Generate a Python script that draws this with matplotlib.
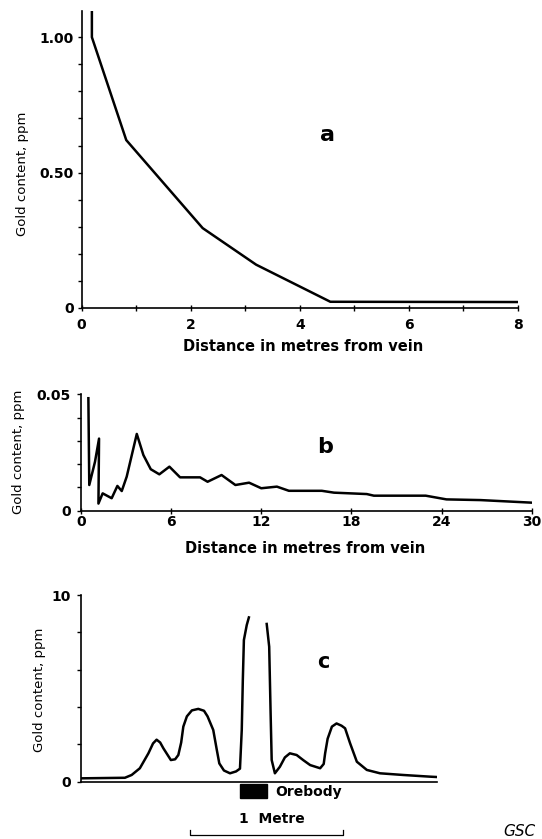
import numpy as np
import matplotlib
matplotlib.use('Agg')
import matplotlib.pyplot as plt
from matplotlib.patches import Rectangle
from matplotlib.ticker import MultipleLocator

# (a) gold content near the vein, 0-8 m
dist_a = [0.19, 0.19, 0.82, 2.22, 3.2, 4.56, 8.0]
gold_a = [1.10, 1.00, 0.62, 0.295, 0.16, 0.023, 0.022]

# (b) gold content away from the vein, 0-30 m
dist_b = [0.51, 0.57, 0.95, 1.22, 1.18, 1.46, 2.06, 2.44, 2.73, 3.06, 3.73,
          4.17, 4.66, 5.23, 5.9, 6.61, 7.94, 8.44, 9.37, 10.29, 11.2, 12.01,
          13.05, 13.85, 16.04, 16.85, 19.03, 19.5, 22.95, 24.33, 26.6, 29.97]
gold_b = [0.0484, 0.011, 0.021, 0.031, 0.003, 0.0074, 0.0053, 0.0106, 0.0084,
          0.0146, 0.033, 0.0239, 0.0178, 0.0156, 0.0189, 0.0143, 0.0143,
          0.0124, 0.0153, 0.011, 0.012, 0.0096, 0.0103, 0.0085, 0.0085,
          0.0077, 0.0071, 0.0064, 0.0064, 0.0048, 0.0045, 0.0034]

# (c) profile across the orebody (arbitrary horizontal units, 0-100)
pos_c = [0, 12.4, 14.3, 16.6, 19.0, 20.3, 21.3, 22.3, 23.2, 25.3, 26.5, 27.4,
         28.2, 28.8, 29.8, 31.2, 33.0, 34.6, 35.6, 37.2, 38.2, 38.9, 40.2,
         41.9, 43.6, 44.7, 45.2, 45.5, 45.8, 46.6, 47.2,
         np.nan,
         52.2, 52.9, 53.3, 53.6, 54.5, 55.9, 57.3, 58.7, 60.6, 62.5, 64.4,
         67.2, 68.2, 68.6, 69.3, 70.5, 71.8, 73.2, 74.2, 75.6, 77.5, 80.3,
         84.0, 90.5, 98.0, 100]
gold_c = [0.18, 0.21, 0.36, 0.72, 1.52, 2.05, 2.25, 2.1, 1.79, 1.16, 1.2, 1.43,
          2.1, 2.95, 3.5, 3.82, 3.9, 3.8, 3.5, 2.77, 1.7, 0.98, 0.6,
          0.45, 0.55, 0.7, 2.77, 5.45, 7.59, 8.39, 8.8,
          np.nan,
          8.45, 7.23, 3.66, 1.16, 0.45, 0.8, 1.3, 1.52, 1.43, 1.15, 0.89,
          0.72, 0.95, 1.52, 2.3, 2.95, 3.12, 3.0, 2.86, 2.06, 1.07, 0.63,
          0.45, 0.36, 0.27, 0.25]
orebody_span = [44.8, 52.3]
metre_bar = [30.7, 73.5]

xticks_a = [0, 2, 4, 6, 8]
yticks_a = [0, 0.5, 1.0]
yticklabels_a = ['0', '0.50', '1.00']
xticks_b = [0, 6, 12, 18, 24, 30]
yticks_b = [0, 0.05]
yticklabels_b = ['0', '0.05']
yticks_c = [0, 10]

ylabel = 'Gold content, ppm'
xlabel = 'Distance in metres from vein'

plt.rcParams['font.family'] = ['DejaVu Sans']
LW = 1.8

fig = plt.figure(figsize=(5.42, 8.39), dpi=100)


def style_axes(ax):
    for side in ('top', 'right'):
        ax.spines[side].set_visible(False)
    for side in ('left', 'bottom'):
        ax.spines[side].set_linewidth(1.2)
    ax.tick_params(axis='y', which='both', direction='out', length=3,
                   width=1.0, labelsize=10)
    ax.tick_params(axis='x', which='both', direction='inout', length=4,
                   width=1.0, labelsize=10)
    for lab in ax.get_xticklabels() + ax.get_yticklabels():
        lab.set_fontweight('bold')


# ---- panel a ----
ax_a = fig.add_axes([0.1504, 0.6329, 0.8054, 0.3544])
ax_a.plot(dist_a, gold_a, color='black', lw=LW)
ax_a.set_xlim(0, 8)
ax_a.set_ylim(0, 1.098)
ax_a.set_xticks(xticks_a)
ax_a.xaxis.set_minor_locator(MultipleLocator(1))
ax_a.set_yticks(yticks_a)
ax_a.set_yticklabels(yticklabels_a)
ax_a.yaxis.set_minor_locator(MultipleLocator(0.1))
style_axes(ax_a)
ax_a.tick_params(axis='x', pad=5)
ax_a.tick_params(axis='y', pad=2.5)
ax_a.set_xlabel(xlabel, fontsize=10.5, fontweight='bold', va='center')
ax_a.xaxis.set_label_coords(0.507, -0.130)
ax_a.set_ylabel(ylabel, fontsize=9.5, va='center')
ax_a.yaxis.set_label_coords(-0.135, 0.451)
ax_a.text(4.5, 0.64, 'a', fontsize=16, fontweight='bold',
          ha='center', va='center')

# ---- panel b ----
ax_b = fig.add_axes([0.1489, 0.3915, 0.8321, 0.1383])
ax_b.plot(dist_b, gold_b, color='black', lw=LW)
ax_b.set_xlim(0, 30)
ax_b.set_ylim(0, 0.05)
ax_b.set_xticks(xticks_b)
ax_b.set_yticks(yticks_b)
ax_b.set_yticklabels(yticklabels_b)
ax_b.yaxis.set_minor_locator(MultipleLocator(0.01))
style_axes(ax_b)
ax_b.tick_params(axis='x', pad=1)
ax_b.tick_params(axis='y', pad=4)
ax_b.set_xlabel(xlabel, fontsize=10.5, fontweight='bold', va='center')
ax_b.xaxis.set_label_coords(0.497, -0.323)
ax_b.set_ylabel(ylabel, fontsize=9.5, va='center')
ax_b.yaxis.set_label_coords(-0.137, 0.504)
ax_b.text(16.25, 0.0275, 'b', fontsize=16, fontweight='bold',
          ha='center', va='center')

# ---- panel c ----
ax_c = fig.add_axes([0.1489, 0.0683, 0.6574, 0.2225])
ax_c.plot(pos_c, gold_c, color='black', lw=LW, solid_joinstyle='round')
ax_c.set_xlim(0, 100)
ax_c.set_ylim(0, 10)
ax_c.set_xticks([])
ax_c.set_yticks(yticks_c)
ax_c.yaxis.set_minor_locator(MultipleLocator(2))
style_axes(ax_c)
ax_c.tick_params(axis='y', pad=4)
ax_c.set_ylabel(ylabel, fontsize=9.5, va='center')
ax_c.yaxis.set_label_coords(-0.115, 0.491)
ax_c.text(68.1, 6.43, 'c', fontsize=15, fontweight='bold',
          ha='center', va='center')

# orebody block and 1 metre scale bar below the axis
ax_c.add_patch(Rectangle((orebody_span[0], -0.9),
                         orebody_span[1] - orebody_span[0], 0.8,
                         facecolor='black', edgecolor='black', clip_on=False))
ax_c.text(orebody_span[1] + 2.2, -0.55, 'Orebody', fontsize=10,
          fontweight='bold', ha='left', va='center')
ax_c.text(sum(metre_bar) / 2 + 1.5, -2.0, '1  Metre', fontsize=10,
          fontweight='bold', ha='center', va='center')
ax_c.plot([metre_bar[0], metre_bar[0], metre_bar[1], metre_bar[1]],
          [-2.6, -2.85, -2.85, -2.6], color='black', lw=0.9, clip_on=False)

fig.text(503 / 542, 1 - 831 / 839, 'GSC', fontsize=11, style='italic',
         ha='left', va='center')

fig.savefig('out.png', dpi=100)
